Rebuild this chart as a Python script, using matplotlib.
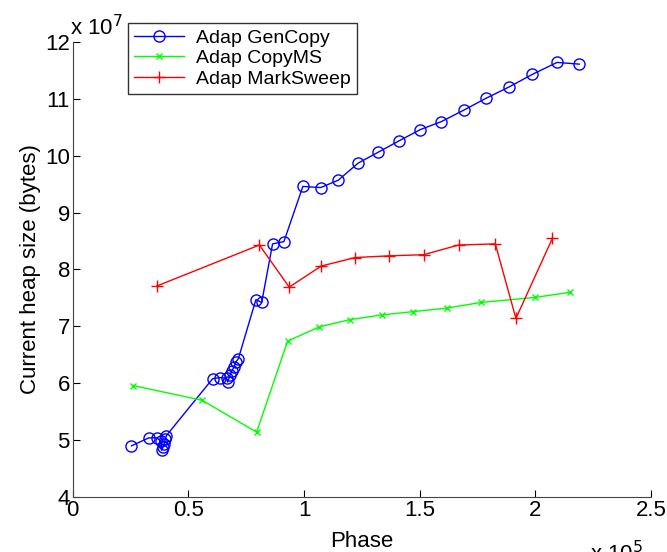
import matplotlib
matplotlib.use('Agg')
import matplotlib.pyplot as plt

plt.rcParams['font.family'] = ['Liberation Sans', 'DejaVu Sans']

# Phase (x 1e5) and heap size (x 1e7)
gencopy_x = [0.254, 0.329, 0.365, 0.38, 0.385, 0.39, 0.395, 0.40, 0.405,
             0.605, 0.636, 0.665, 0.67, 0.68, 0.687, 0.698, 0.706, 0.716,
             0.792, 0.817, 0.864, 0.913, 0.995, 1.072, 1.148, 1.234, 1.32,
             1.41, 1.503, 1.594, 1.69, 1.787, 1.887, 1.987, 2.094, 2.19]
gencopy_y = [4.90, 5.04, 5.04, 4.98, 4.82, 4.88, 4.93, 5.02, 5.08,
             6.08, 6.10, 6.09, 6.02, 6.14, 6.21, 6.29, 6.38, 6.43,
             7.47, 7.42, 8.45, 8.49, 9.46, 9.44, 9.57, 9.87, 10.06,
             10.26, 10.46, 10.60, 10.80, 11.01, 11.21, 11.43, 11.64, 11.61]

copyms_x = [0.261, 0.56, 0.795, 0.929, 1.065, 1.2, 1.335, 1.473, 1.616,
            1.764, 2.0, 2.152]
copyms_y = [5.96, 5.70, 5.14, 6.74, 6.99, 7.12, 7.20, 7.26, 7.32,
            7.42, 7.51, 7.60]

marksweep_x = [0.364, 0.807, 0.936, 1.074, 1.221, 1.368, 1.517, 1.668,
               1.827, 1.916, 2.074]
marksweep_y = [7.71, 8.43, 7.69, 8.06, 8.21, 8.24, 8.26, 8.43, 8.45,
               7.14, 8.55]

fig = plt.figure(figsize=(6.67, 5.52), dpi=100)
ax = fig.add_axes([0.109, 0.0996, 0.867, 0.8244])

ax.plot(gencopy_x, gencopy_y, color='b', marker='o', markerfacecolor='none',
        markersize=8, linewidth=1, label='Adap GenCopy')
ax.plot(copyms_x, copyms_y, color=(0, 1, 0), marker='x', markersize=5,
        linewidth=1, label='Adap CopyMS')
ax.plot(marksweep_x, marksweep_y, color='r', marker='+', markersize=8,
        linewidth=1, label='Adap MarkSweep')

ax.set_xlim(0, 2.5)
ax.set_ylim(4, 12)
ax.set_xticks([0, 0.5, 1, 1.5, 2, 2.5])
ax.set_xticklabels(['0', '0.5', '1', '1.5', '2', '2.5'])
ax.set_yticks(range(4, 13))
ax.tick_params(direction='in', labelsize=16, length=5, pad=2)
ax.spines['top'].set_visible(False)
ax.spines['right'].set_visible(False)
for s in ['left', 'bottom']:
    ax.spines[s].set_color('#444444')

ax.set_xlabel('Phase', fontsize=16, labelpad=7)
ax.set_ylabel('Current heap size (bytes)', fontsize=16, labelpad=3)

fig.text(0.105, 0.928, r'x 10$^{7}$', fontsize=16, ha='left', va='bottom')
fig.text(0.885, -0.025, r'x 10$^{5}$', fontsize=16, ha='left', va='bottom')

leg = fig.legend(loc='upper left', bbox_to_anchor=(0.192, 0.958),
                 fontsize=14, frameon=True, fancybox=False, borderpad=0.3,
                 labelspacing=0.15, handlelength=2.6, numpoints=1,
                 borderaxespad=0, handletextpad=0.6)
leg.get_frame().set_edgecolor('black')
leg.get_frame().set_linewidth(1)

fig.savefig('out.png', dpi=100)
